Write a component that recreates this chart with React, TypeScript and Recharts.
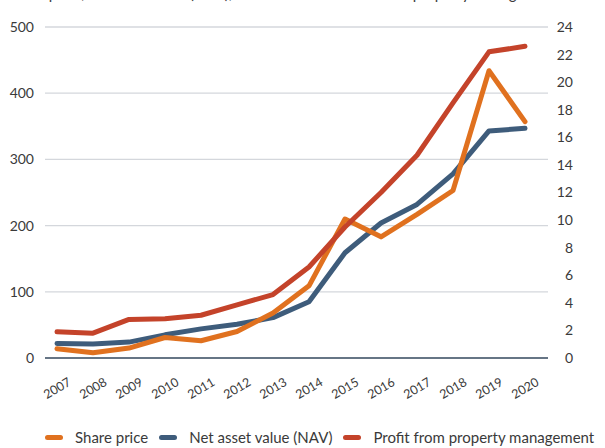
import { CartesianGrid, Line, LineChart, XAxis, YAxis } from "recharts";

const YEARS = ["2007", "2008", "2009", "2010", "2011", "2012", "2013", "2014", "2015", "2016", "2017", "2018", "2019", "2020"];
const SHARE_PRICE = [14, 8, 15, 31, 26, 40, 68, 109, 210, 183, 217, 253, 434, 357];
const NAV = [22, 21, 24, 35, 44, 51, 61, 85, 159, 204, 232, 278, 343, 347];
const PROFIT = [1.9, 1.8, 2.8, 2.85, 3.1, 3.85, 4.6, 6.6, 9.5, 12.0, 14.7, 18.5, 22.2, 22.6];
const LEFT_TICKS = [0, 100, 200, 300, 400, 500];
const RIGHT_TICKS = [0, 2, 4, 6, 8, 10, 12, 14, 16, 18, 20, 22, 24];

const TITLE = "Share price, net asset value (NAV), and the annual result from property management";

const SERIES = [
  { key: "share", name: "Share price", color: "#E0711F", axis: "left" },
  { key: "nav", name: "Net asset value (NAV)", color: "#3E5C7B", axis: "left" },
  { key: "profit", name: "Profit from property management", color: "#C4432A", axis: "right" },
];

const data = YEARS.map((year, i) => ({
  year,
  share: SHARE_PRICE[i],
  nav: NAV[i],
  profit: PROFIT[i],
}));

const FONT = "Lato, 'Open Sans', sans-serif";
const TEXT = "#3a3a3a";

function XTick({ x, y, payload }: any) {
  return (
    <text
      x={x}
      y={y}
      transform={`rotate(-30 ${x} ${y})`}
      textAnchor="middle"
      dominantBaseline="central"
      fontSize={12.5}
      fontFamily={FONT}
      fill={TEXT}
    >
      {payload.value}
    </text>
  );
}

function RightTick({ x, y, payload }: any) {
  return (
    <text x={x + 17} y={y} dy="0.355em" textAnchor="end" fontSize={14} fontFamily={FONT} fill={TEXT}>
      {payload.value}
    </text>
  );
}

export default function App() {
  // draw order: NAV under share price, profit on top
  const drawOrder = [SERIES[1], SERIES[0], SERIES[2]];
  return (
    <div
      style={{
        position: "absolute",
        left: 0,
        top: 0,
        width: 605,
        height: 448,
        overflow: "hidden",
        background: "#fff",
        fontFamily: FONT,
      }}
    >
      <div
        style={{
          position: "absolute",
          left: 8,
          top: -14,
          fontSize: 15,
          lineHeight: "15px",
          color: TEXT,
          whiteSpace: "nowrap",
        }}
      >
        {TITLE}
      </div>
      <LineChart width={605} height={448} data={data} margin={{ top: 27, right: 0, left: 0, bottom: 40 }}>
        <CartesianGrid vertical={false} stroke="#d4d7dc" strokeWidth={1.3} yAxisId="left" />
        <XAxis
          dataKey="year"
          height={50}
          padding={{ left: 12, right: 23 }}
          tickLine={false}
          tickSize={0}
          tickMargin={30}
          axisLine={{ stroke: "#3e5064", strokeWidth: 1.5 }}
          tick={<XTick />}
          interval={0}
        />
        <YAxis
          yAxisId="left"
          orientation="left"
          width={45}
          domain={[0, 500]}
          ticks={LEFT_TICKS}
          axisLine={false}
          tickLine={false}
          tickSize={0}
          tickMargin={11}
          tick={{ fontSize: 14, fill: TEXT, fontFamily: FONT }}
        />
        <YAxis
          yAxisId="right"
          orientation="right"
          width={57}
          domain={[0, 24]}
          ticks={RIGHT_TICKS}
          interval={0}
          axisLine={false}
          tickLine={false}
          tickSize={0}
          tickMargin={8}
          tick={<RightTick />}
        />
        {drawOrder.map((s) => (
          <Line
            key={s.key}
            yAxisId={s.axis}
            dataKey={s.key}
            name={s.name}
            type="linear"
            stroke={s.color}
            strokeWidth={5}
            strokeLinecap="round"
            strokeLinejoin="round"
            dot={false}
            activeDot={false}
            isAnimationActive={false}
          />
        ))}
      </LineChart>
      <div
        style={{
          position: "absolute",
          left: 45,
          top: 428,
          display: "flex",
          alignItems: "center",
          fontSize: 15,
          color: TEXT,
          whiteSpace: "nowrap",
        }}
      >
        {SERIES.map((s) => (
          <div key={s.key} style={{ display: "flex", alignItems: "center", marginRight: 11 }}>
            <span
              style={{
                display: "inline-block",
                width: 18,
                height: 5,
                borderRadius: 3,
                background: s.color,
                marginRight: 12,
              }}
            />
            <span>{s.name}</span>
          </div>
        ))}
      </div>
    </div>
  );
}
